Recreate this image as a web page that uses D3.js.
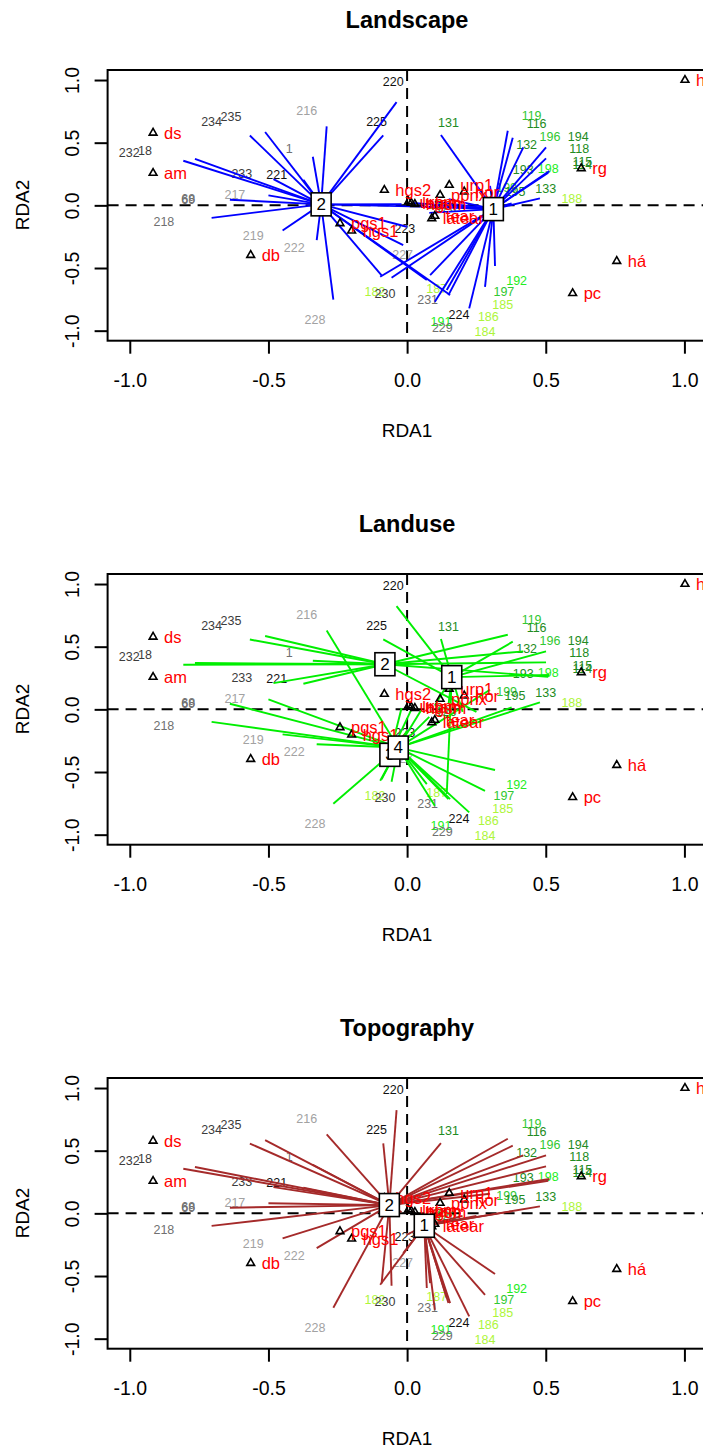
<!DOCTYPE html>
<html><head><meta charset="utf-8">
<script src="https://cdn.jsdelivr.net/npm/d3@7"></script>
<style>body{margin:0;background:#fff} svg{display:block;font-family:"Liberation Sans",Arial,sans-serif}</style>
</head><body><svg id="c" width="703" height="1450"></svg>
<script>
// ---------- data ----------
const panelTitles = ["Landscape", "Landuse", "Topography"];
const spiderColors = ["#0000FF", "#00EE00", "#A52A2A"];
const tickValues = [-1, -0.5, 0, 0.5, 1];
const tickLabels = ["-1.0", "-0.5", "0.0", "0.5", "1.0"];

// site (WA) labels
const siteLabels = ["220","216","234","235","225","232","18","1","233","221","68","69","217","218","219","222","228","182","230","223","227",
  "131","119","116","196","194","132","118","193","198","115","114","133","188","199","195","192","197","185","186","184","224","191","229","231","187","126","125"];
const siteX = [-0.050,-0.362,-0.705,-0.635,-0.110,-1.002,-0.945,-0.425,-0.596,-0.470,-0.789,-0.789,-0.621,-0.877,-0.555,-0.407,-0.332,-0.116,-0.080,-0.008,-0.016,
  0.149,0.449,0.467,0.515,0.617,0.431,0.621,0.419,0.509,0.632,0.632,0.500,0.594,0.359,0.389,0.395,0.349,0.345,0.293,0.281,0.187,0.122,0.127,0.074,0.107,0.140,0.110];
const siteY = [0.988,0.749,0.669,0.701,0.669,0.421,0.435,0.453,0.249,0.241,0.052,0.046,0.084,-0.129,-0.243,-0.342,-0.916,-0.688,-0.709,-0.190,-0.399,
  0.661,0.714,0.648,0.549,0.549,0.483,0.453,0.283,0.294,0.342,0.325,0.134,0.054,0.142,0.108,-0.603,-0.688,-0.794,-0.888,-1.007,-0.875,-0.927,-0.980,-0.757,-0.669,-0.020,0.000];
const siteShade = ["black","light","dark","dark","black","dark","dark","gray","dark","black","gray","gray","light","gray","light","light","light","ygreen","dark","black","light",
  "dgreen","green","dgreen","green","dgreen","dgreen","dgreen","dgreen","bgreen","dgreen","dgreen","dgreen","ygreen","green","dgreen","bgreen","green","ygreen","ygreen","ygreen","black","bgreen","gray","gray","ygreen","dgreen","green"];
const shadeColors = {black:"#111111", dark:"#3c3c3c", gray:"#707070", light:"#a2a2a2", dgreen:"#228B22", green:"#32C832", bgreen:"#22EE22", ygreen:"#ADF53A"};

// site (LC) scores: spider end points
const lcX = [-0.567,-0.512,-0.807,-0.765,-0.290,-0.340,-0.086,-0.038,-0.482,-0.374,-0.500,-0.639,-0.705,-0.449,-0.326,-0.266,-0.092,-0.056,-0.001,-0.014,0.071,0.155,
  0.122,0.363,0.381,0.419,0.501,0.501,0.513,0.509,0.479,0.377,0.299,0.317,0.281,0.224,0.149,0.100,0.083,0.143,-0.097,
  0.020,0.050,0.100,0.080,0.150,-0.020,0.200,0.250];
const lcY = [0.557,0.585,0.356,0.370,0.630,0.388,0.559,0.824,0.209,0.204,0.080,0.045,-0.100,-0.200,-0.278,-0.753,-0.559,-0.578,-0.171,-0.317,-0.596,-0.716,
  0.561,0.595,0.540,0.463,0.463,0.375,0.274,0.260,0.056,0.016,0.156,-0.484,-0.651,-0.822,-0.716,-0.770,-0.557,-0.676,-0.570,
  0.020,-0.010,0.030,-0.060,0.050,0.010,-0.020,-0.020];

// group memberships per panel
const groupLandscape = [2,2,2,2,2,2,2,2,2,2,2,2,2,2,2,2,2,1,2,2,2,2,
  1,1,1,1,1,1,1,1,1,1,1,1,1,1,1,1,1,1,1,
  1,1,1,1,1,2,1,2];
const groupLanduse = [2,2,2,2,4,2,1,1,2,2,4,4,4,4,4,4,4,4,4,3,4,4,
  1,2,1,2,1,2,1,2,4,4,4,4,4,4,4,4,4,1,4,
  3,4,1,4,1,3,1,2];
const groupTopography = [2,2,2,2,2,2,2,2,2,2,2,2,2,2,2,2,2,2,1,1,1,1,
  2,2,2,2,2,2,2,2,1,1,2,1,1,1,1,1,1,1,1,
  1,1,1,1,1,2,1,1];

// group centroids per panel
const centLandscapeId = [1, 2];
const centLandscapeX = [0.311, -0.310];
const centLandscapeY = [-0.030, 0.008];
const centLanduseId = [1, 2, 3, 4];
const centLanduseX = [0.161, -0.080, -0.062, -0.032];
const centLanduseY = [0.257, 0.360, -0.363, -0.305];
const centTopoId = [1, 2];
const centTopoX = [0.062, -0.064];
const centTopoY = [-0.099, 0.066];

// species
const spLabels = ["hp","ds","am","db","hgs2","pgs1","hgs1","urp1","hor","ppnx","urpm","lalam","hgsm","latear","tear","rg","há","pc"];
const spX = [1.002,-0.916,-0.916,-0.564,-0.082,-0.242,-0.200,0.152,0.206,0.119,0.005,0.015,0.028,0.089,0.100,0.628,0.756,0.597];
const spY = [1.000,0.578,0.258,-0.397,0.122,-0.144,-0.203,0.162,0.109,0.082,0.030,0.020,0.010,-0.104,-0.085,0.295,-0.445,-0.702];

// ---------- drawing ----------
const svg = d3.select("#c");
const groupsAll = [groupLandscape, groupLanduse, groupTopography];
const cents = [
  {id: centLandscapeId, x: centLandscapeX, y: centLandscapeY},
  {id: centLanduseId, x: centLanduseX, y: centLanduseY},
  {id: centTopoId, x: centTopoX, y: centTopoY}
];
const x = d3.scaleLinear().domain([-1.08, 1.08]).range([107.6, 706.6]);
const y = d3.scaleLinear().domain([-1.08, 1.08]).range([340.7, 70]);
const sites = siteLabels.map((l, i) => ({l, x: siteX[i], y: siteY[i], c: shadeColors[siteShade[i]]}));
const lc = lcX.map((v, i) => ({x: v, y: lcY[i]}));
const species = spLabels.map((l, i) => ({l, x: spX[i], y: spY[i]}));

svg.append("defs").append("clipPath").attr("id", "plotclip")
  .append("rect").attr("x", 107.6).attr("y", 70).attr("width", 599).attr("height", 270.7);

panelTitles.forEach((title, p) => {
  const g = svg.append("g").attr("transform", `translate(0,${p * 504})`);
  g.append("text").attr("x", 407).attr("y", 28).attr("text-anchor", "middle")
    .attr("font-size", 23.5).attr("font-weight", "bold").text(title);

  const pl = g.append("g").attr("clip-path", "url(#plotclip)");
  // dashed zero lines
  pl.append("line").attr("x1", x(-1.08)).attr("x2", x(1.08)).attr("y1", y(0)).attr("y2", y(0))
    .attr("stroke", "#000").attr("stroke-width", 2).attr("stroke-dasharray", "11,7");
  pl.append("line").attr("x1", x(0)).attr("x2", x(0)).attr("y1", y(1.08)).attr("y2", y(-1.08))
    .attr("stroke", "#000").attr("stroke-width", 2).attr("stroke-dasharray", "11,7");

  // site labels
  pl.selectAll("text.site").data(sites).join("text").attr("class", "site")
    .attr("x", d => x(d.x)).attr("y", d => y(d.y)).attr("text-anchor", "middle")
    .attr("dominant-baseline", "central").attr("font-size", 12.5).attr("fill", d => d.c).text(d => d.l);

  // spider lines
  const grp = groupsAll[p], ce = cents[p];
  pl.selectAll("line.spider").data(lc).join("line").attr("class", "spider")
    .attr("x1", (d, i) => x(ce.x[ce.id.indexOf(grp[i])]))
    .attr("y1", (d, i) => y(ce.y[ce.id.indexOf(grp[i])]))
    .attr("x2", d => x(d.x)).attr("y2", d => y(d.y))
    .attr("stroke", spiderColors[p]).attr("stroke-width", 1.9);

  // species
  const tri = d3.symbol(d3.symbolTriangle).size(26);
  pl.selectAll("path.sp").data(species).join("path").attr("class", "sp")
    .attr("transform", d => `translate(${x(d.x)},${y(d.y)})`).attr("d", tri)
    .attr("fill", "none").attr("stroke", "#000").attr("stroke-width", 1.6);
  pl.selectAll("text.sp").data(species).join("text").attr("class", "sp")
    .attr("x", d => x(d.x) + 11).attr("y", d => y(d.y)).attr("dominant-baseline", "central")
    .attr("font-size", 16.5).attr("fill", "#FF0000").text(d => d.l);

  // centroid labels
  const cg = pl.selectAll("g.cent").data(ce.id).join("g").attr("class", "cent")
    .attr("transform", (d, i) => `translate(${x(ce.x[i])},${y(ce.y[i])})`);
  cg.append("rect").attr("x", -10).attr("y", -11.5).attr("width", 20).attr("height", 23)
    .attr("fill", "#fff").attr("stroke", "#000").attr("stroke-width", 1.6);
  cg.append("text").attr("text-anchor", "middle").attr("dominant-baseline", "central")
    .attr("font-size", 17).text(d => d);

  // frame
  g.append("rect").attr("x", 107.6).attr("y", 70).attr("width", 599).attr("height", 270.7)
    .attr("fill", "none").attr("stroke", "#000").attr("stroke-width", 2);

  // axes
  const ay = g.append("g").attr("transform", "translate(107.6,0)")
    .call(d3.axisLeft(y).tickValues(tickValues).tickSize(13).tickSizeOuter(0).tickFormat((d, i) => tickLabels[i]));
  ay.select(".domain").remove();
  ay.selectAll("line").attr("stroke-width", 2);
  ay.selectAll("text").attr("x", null).attr("dy", null).attr("text-anchor", "middle")
    .attr("dominant-baseline", "central").attr("transform", "translate(-35.5,0) rotate(-90)")
    .attr("font-size", 19.5).attr("font-family", "Liberation Sans, Arial, sans-serif").attr("fill", "#000");

  const ax = g.append("g").attr("transform", "translate(0,340.7)")
    .call(d3.axisBottom(x).tickValues(tickValues).tickSize(13).tickSizeOuter(0).tickFormat((d, i) => tickLabels[i]));
  ax.select(".domain").remove();
  ax.selectAll("line").attr("stroke-width", 2);
  ax.selectAll("text").attr("y", 39.3).attr("dy", null).attr("dominant-baseline", "central")
    .attr("font-size", 19.5).attr("font-family", "Liberation Sans, Arial, sans-serif").attr("fill", "#000");

  g.append("text").attr("x", 407).attr("y", 430).attr("text-anchor", "middle")
    .attr("dominant-baseline", "central").attr("font-size", 19).text("RDA1");
  g.append("text").attr("transform", "translate(22,205) rotate(-90)").attr("text-anchor", "middle")
    .attr("dominant-baseline", "central").attr("font-size", 19).text("RDA2");
});
</script></body></html>
